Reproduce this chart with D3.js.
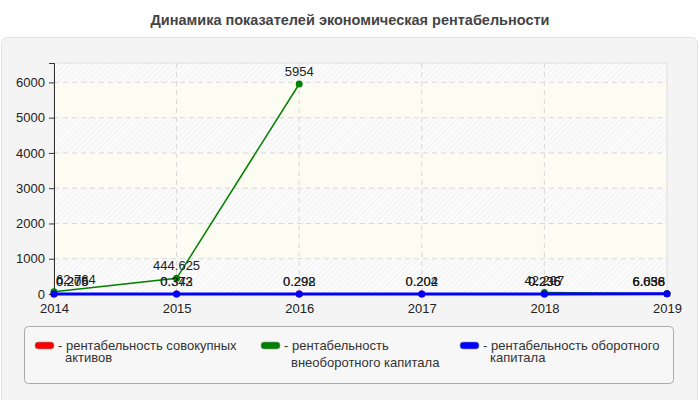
<!DOCTYPE html>
<html>
<head>
<meta charset="utf-8">
<script src="https://d3js.org/d3.v7.min.js"></script>
<style>
  body { margin: 0; background: #fff; }
  svg { display: block; font-family: "Liberation Sans", Arial, sans-serif; }
</style>
</head>
<body>
<svg id="chart" width="700" height="400"></svg>
<script>
// Годы и значения показателей
const years = [2014, 2015, 2016, 2017, 2018, 2019];
const totalAssets = [0.276, 0.343, 0.298, 0.204, 0.236, 6.656];
const nonCurrentCapital = [62.764, 444.625, 5954, null, 42.297, 6.038];
const currentCapital = [0.205, 0.372, 0.292, 0.202, 0.235, 6.036];
const yTicks = [0, 1000, 2000, 3000, 4000, 5000, 6000];

const seriesNames = [
    ['рентабельность совокупных', 'активов'],
    ['рентабельность', 'внеоборотного капитала'],
    ['рентабельность оборотного', 'капитала'],
];
const seriesColors = ['#ff0000', '#008000', '#0000ff'];

const svg = d3.select('#chart');

// Заголовок
svg.append('text')
    .attr('x', 350).attr('y', 25)
    .attr('text-anchor', 'middle')
    .attr('fill', '#444')
    .style('font-size', '14.5px')
    .style('font-weight', 'bold')
    .text('Динамика показателей экономическая рентабельности');

// Панель
svg.append('rect')
    .attr('x', 1.5).attr('y', 37.5).attr('width', 696).attr('height', 370)
    .attr('rx', 6)
    .attr('fill', '#f4f4f4').attr('stroke', '#e2e2e2');

const margin = { left: 54, right: 33, top: 63, bottom: 106 };
const innerW = 700 - margin.left - margin.right;
const innerH = 400 - margin.top - margin.bottom;

const defs = svg.append('defs');
const hatch = defs.append('pattern')
    .attr('id', 'hatch')
    .attr('patternUnits', 'userSpaceOnUse')
    .attr('width', 4).attr('height', 4)
    .attr('patternTransform', 'rotate(45)');
hatch.append('rect').attr('width', 4).attr('height', 4).attr('fill', '#fbfbfb');
hatch.append('line').attr('x1', 0).attr('y1', 0).attr('x2', 0).attr('y2', 4)
    .attr('stroke', '#ececec').attr('stroke-width', 1.2);

const g = svg.append('g').attr('transform', `translate(${margin.left},${margin.top})`);

const x = d3.scalePoint().domain(years).range([0, innerW]);
const y = d3.scaleLinear().domain([0, 6550]).range([innerH, 0]);

// Полосы фона
const bandEdges = yTicks.concat([6550]);
g.selectAll('.band')
    .data(d3.pairs(bandEdges))
    .enter()
    .append('rect')
    .attr('x', 0)
    .attr('width', innerW)
    .attr('y', d => y(d[1]))
    .attr('height', d => y(d[0]) - y(d[1]))
    .attr('fill', (d, i) => i % 2 === 0 ? 'url(#hatch)' : '#fcfcf3');

g.append('rect').attr('width', innerW).attr('height', innerH)
    .attr('fill', 'none').attr('stroke', '#dedede');

// Сетка
g.selectAll('.hgrid')
    .data(yTicks.slice(1))
    .enter()
    .append('line')
    .attr('x1', 0).attr('x2', innerW)
    .attr('y1', d => y(d)).attr('y2', d => y(d))
    .attr('stroke', '#d8d8d8').attr('stroke-dasharray', '5,4');

g.selectAll('.vgrid')
    .data(years.slice(1, -1))
    .enter()
    .append('line')
    .attr('x1', d => x(d)).attr('x2', d => x(d))
    .attr('y1', 0).attr('y2', innerH)
    .attr('stroke', '#d8d8d8').attr('stroke-dasharray', '5,4');

// Оси
const yAxis = g.append('g')
    .call(d3.axisLeft(y).tickValues(yTicks).tickSize(5).tickPadding(4).tickFormat(d3.format('d')));
yAxis.select('.domain').attr('stroke', '#333');
yAxis.selectAll('line').attr('stroke', '#333');
yAxis.selectAll('text').attr('fill', '#222').style('font-size', '13px');

const xAxis = g.append('g')
    .attr('transform', `translate(0,${innerH})`)
    .call(d3.axisBottom(x).tickSize(0).tickPadding(10).tickFormat(d3.format('d')));
xAxis.select('.domain').remove();
xAxis.selectAll('text').attr('fill', '#222').style('font-size', '13px');

// Линии и точки
const allSeries = [totalAssets, nonCurrentCapital, currentCapital];
const widths = [2, 1.5, 3];
const line = d3.line()
    .defined(d => d.v !== null)
    .x(d => x(d.year))
    .y(d => y(d.v));

allSeries.forEach((vals, si) => {
    const data = years.map((year, i) => ({ year, v: vals[i] }));
    g.append('path')
        .datum(data)
        .attr('d', line)
        .attr('fill', 'none')
        .attr('stroke', seriesColors[si])
        .attr('stroke-width', widths[si]);
    g.selectAll(`.pt${si}`)
        .data(data.filter(d => d.v !== null))
        .enter()
        .append('circle')
        .attr('cx', d => x(d.year))
        .attr('cy', d => y(d.v))
        .attr('r', 3.5)
        .attr('fill', seriesColors[si]);
});

// Подписи значений
const first = years[0], last = years[years.length - 1];
allSeries.forEach(vals => {
    const data = years.map((year, i) => ({ year, v: vals[i] })).filter(d => d.v !== null);
    g.selectAll('.lbl')
        .data(data, d => d)
        .enter()
        .append('text')
        .attr('x', d => x(d.year) + (d.year === first ? 2 : d.year === last ? -2 : 0))
        .attr('y', d => y(d.v) - 8)
        .attr('text-anchor', d => d.year === first ? 'start' : d.year === last ? 'end' : 'middle')
        .attr('fill', '#222')
        .style('font-size', '13px')
        .text(d => d.v);
});

// Легенда
svg.append('rect')
    .attr('x', 24.5).attr('y', 326.5).attr('width', 649).attr('height', 57)
    .attr('rx', 4)
    .attr('fill', '#f7f7f7').attr('stroke', '#aaa');

const legendX = [35, 261, 460];
const legendGap = [12, 17, 12];
seriesNames.forEach((lines, i) => {
    const lg = svg.append('g').attr('transform', `translate(${legendX[i]},342)`);
    lg.append('rect').attr('width', 19).attr('height', 7).attr('rx', 3)
        .attr('fill', seriesColors[i]).attr('stroke', '#999').attr('stroke-width', 0.6);
    lg.append('text').attr('x', 23).attr('y', 8).attr('fill', '#333')
        .style('font-size', '13px').text('- ' + lines[0]);
    lg.append('text').attr('x', 30).attr('y', 8 + legendGap[i]).attr('fill', '#333')
        .style('font-size', '13px').text(lines[1]);
});
</script>
</body>
</html>
